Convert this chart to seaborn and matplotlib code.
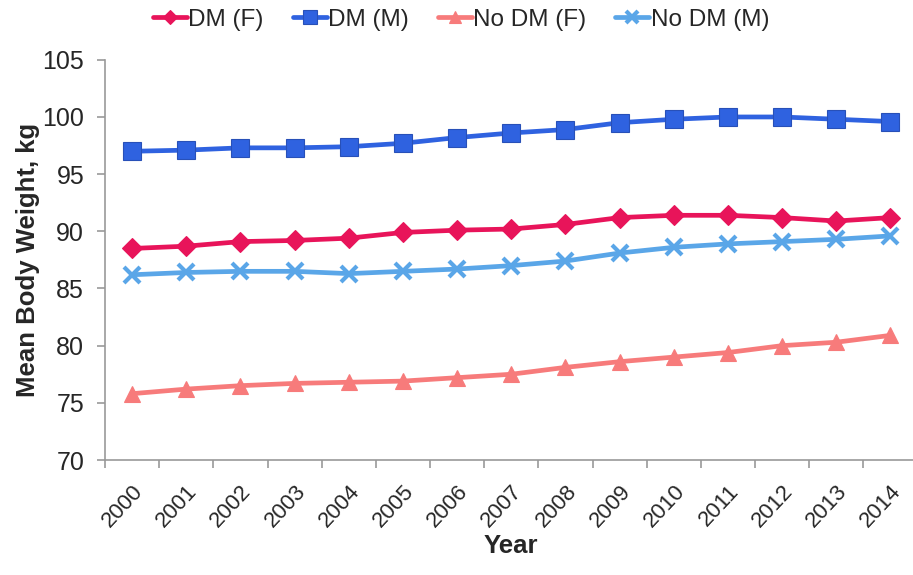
import matplotlib
matplotlib.use("Agg")
import matplotlib.pyplot as plt
from matplotlib.ticker import MultipleLocator
import seaborn as sns
import pandas as pd

# values
years = list(range(2000, 2015))
dm_f = [88.5, 88.7, 89.1, 89.2, 89.4, 89.9, 90.1, 90.2, 90.6, 91.2, 91.4, 91.4, 91.2, 90.9, 91.2]
dm_m = [97.0, 97.1, 97.3, 97.3, 97.4, 97.7, 98.2, 98.6, 98.9, 99.5, 99.8, 100.0, 100.0, 99.8, 99.6]
nodm_f = [75.8, 76.2, 76.5, 76.7, 76.8, 76.9, 77.2, 77.5, 78.1, 78.6, 79.0, 79.4, 80.0, 80.3, 80.9]
nodm_m = [86.2, 86.4, 86.5, 86.5, 86.3, 86.5, 86.7, 87.0, 87.4, 88.1, 88.6, 88.9, 89.1, 89.3, 89.6]
groups = ["DM (F)", "DM (M)", "No DM (F)", "No DM (M)"]

df = pd.concat([
    pd.DataFrame({"Year": years, "Weight": vals, "Group": g})
    for g, vals in zip(groups, [dm_f, dm_m, nodm_f, nodm_m])
])

colors = {"DM (F)": "#E8145A", "DM (M)": "#2F62E0", "No DM (F)": "#F77B7B", "No DM (M)": "#5AA6E8"}
markers = {"DM (F)": "D", "DM (M)": "s", "No DM (F)": "^", "No DM (M)": "x"}
msize = {"DM (F)": 10, "DM (M)": 13, "No DM (F)": 12, "No DM (M)": 12}

sns.set_style("white")
plt.rcParams["font.family"] = ["Liberation Sans", "DejaVu Sans"]

fig = plt.figure(figsize=(9.13, 5.75), dpi=100)
ax = fig.add_axes([0.115, 0.2, 0.89, 0.696])

for g in groups:
    sub = df[df["Group"] == g]
    sns.lineplot(data=sub, x="Year", y="Weight", ax=ax, color=colors[g], lw=3.4,
                 marker=markers[g], markersize=msize[g], markeredgewidth=3 if g == "No DM (M)" else 0.8,
                 markeredgecolor=colors[g] if g != "DM (M)" else "#2850B8", label=g, sort=False)

ax.set_ylim(70, 105)
ax.set_xlim(1999.5, 2014.5)
ax.yaxis.set_major_locator(MultipleLocator(5))
ax.set_xticks(years)
ax.set_xticklabels([str(y) for y in years], rotation=47, ha="right", rotation_mode="anchor")
ax.set_xticks([y - 0.5 for y in years] + [2014.5], minor=True)
ax.tick_params(axis="x", which="major", length=0, labelsize=16, pad=15)
ax.tick_params(axis="x", which="minor", length=6, color="#999999", width=1.2, direction="out")
ax.tick_params(axis="y", length=6, color="#999999", width=1.2, direction="out", labelsize=18, pad=9)
ax.xaxis.set_tick_params(which="both", bottom=True)
ax.yaxis.set_tick_params(left=True)
for s in ["top", "right"]:
    ax.spines[s].set_visible(False)
for s in ["left", "bottom"]:
    ax.spines[s].set_color("#999999")
    ax.spines[s].set_linewidth(1.2)

ax.set_xlabel("Year", fontsize=18.5, fontweight="bold", labelpad=2)
ax.set_ylabel("Mean Body Weight, kg", fontsize=18.5, fontweight="bold", labelpad=2)

ax.legend(loc="center", bbox_to_anchor=(0.505, 0.966), bbox_transform=fig.transFigure,
          ncol=4, frameon=False, fontsize=17.5, handlelength=1.4, handletextpad=0.05,
          columnspacing=1.2, borderaxespad=0, markerscale=0.75, borderpad=0)

fig.savefig("out.png", dpi=100)
